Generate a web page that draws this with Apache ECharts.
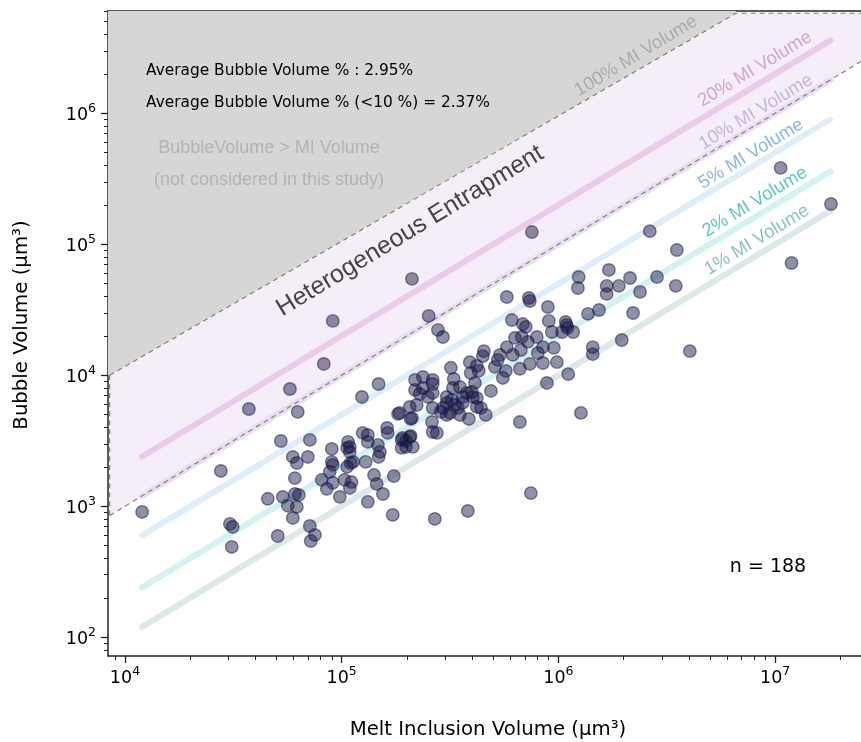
<!DOCTYPE html>
<html>
<head>
<meta charset="utf-8">
<script src="https://cdn.jsdelivr.net/npm/echarts@6/dist/echarts.min.js"></script>
<style>
  html, body { margin: 0; padding: 0; background: #fff; }
  #chart { width: 861px; height: 742px; }
</style>
</head>
<body>
<div id="chart"></div>
<script>
// Axis extents in µm³
const xRange = [8.35e3, 2.49e7];
const yRange = [71.9, 6.04e6];
const xMajorTicks = [1e4, 1e5, 1e6, 1e7];
const yMajorTicks = [1e2, 1e3, 1e4, 1e5, 1e6];

// Melt inclusion volume (µm³) of each inclusion
const miVolume = [
  1.06e7, 1.81e7, 7.54e5, 2.64e6, 3.52e6, 1.19e7, 2.11e5, 9.10e4, 2.52e5, 2.78e5,
  2.93e5, 8.27e4, 5.77e4, 3.73e4, 6.27e4, 1.48e5, 1.24e5, 5.24e4, 7.13e4, 1.24e6,
  1.71e6, 1.23e6, 1.67e6, 1.67e6, 1.90e6, 2.14e6, 2.85e6, 2.38e6, 3.48e6, 5.78e5,
  7.30e5, 7.38e5, 8.94e5, 1.37e6, 1.54e6, 2.21e6, 6.10e5, 6.85e5, 7.07e5, 9.03e5,
  9.33e5, 1.04e6, 1.09e6, 1.10e6, 1.17e6, 7.95e5, 6.30e5, 6.78e5, 7.23e5, 5.78e5,
  6.71e5, 6.16e5, 5.37e5, 4.53e5, 4.48e5, 8.48e5, 9.53e5, 8.04e5, 7.38e5, 8.48e5,
  9.84e5, 6.64e5, 5.72e5, 5.09e5, 5.54e5, 3.90e5, 3.19e5, 3.94e5, 4.29e5, 1.11e6,
  8.85e5, 1.44e6, 1.44e6, 1.96e6, 4.04e6, 1.27e6, 6.64e5, 4.88e5, 4.12e5, 3.78e5,
  3.99e5, 3.62e5, 3.26e5, 3.22e5, 2.93e5, 2.63e5, 3.05e5, 3.51e5, 3.86e5, 4.39e5,
  4.62e5, 4.20e5, 2.63e5, 2.37e5, 2.18e5, 2.18e5, 2.37e5, 2.50e5, 2.63e5, 2.06e5,
  2.22e5, 2.11e5, 2.61e5, 2.63e5, 2.75e5, 1.91e5, 2.06e5, 2.13e5, 1.85e5, 3.16e5,
  1.98e5, 7.46e5, 3.82e5, 2.69e5, 1.72e5, 2.77e4, 1.20e4, 3.05e4, 3.14e4, 3.11e4,
  5.07e4, 7.13e4, 7.52e4, 7.20e4, 4.56e4, 5.35e4, 5.64e4, 6.21e4, 5.95e4, 6.08e4,
  6.34e4, 6.08e4, 5.95e4, 6.21e4, 6.98e4, 9.00e4, 1.07e5, 1.06e5, 1.09e5, 1.25e5,
  1.32e5, 1.32e5, 1.47e5, 1.50e5, 1.48e5, 1.62e5, 1.63e5, 1.82e5, 2.08e5, 2.08e5,
  1.89e5, 1.89e5, 9.00e4, 9.10e4, 8.81e4, 8.09e4, 8.54e4, 9.10e4, 9.80e4, 1.03e5,
  1.06e5, 1.10e5, 1.13e5, 1.11e5, 1.09e5, 1.29e5, 1.41e5, 1.45e5, 1.55e5, 1.32e5,
  1.74e5, 3.33e5, 3.62e5, 3.05e5, 4.20e5, 3.29e5, 3.51e5, 3.05e5, 4.03e5, 1.08e6,
  2.63e5, 1.98e5, 4.20e5, 2.87e5, 1.09e5, 5.25e5, 2.29e5, 3.44e5
];

// Bubble volume (µm³) of each inclusion, same order
const bubbleVolume = [
  3.83e5, 2.03e5, 1.24e5, 1.26e5, 9.05e4, 7.20e4, 5.44e4, 2.60e4, 2.84e4, 2.22e4,
  1.96e4, 1.22e4, 7.86e3, 5.53e3, 5.25e3, 8.58e3, 6.83e3, 3.15e3, 3.21e3, 5.63e4,
  6.37e4, 4.64e4, 4.81e4, 4.18e4, 4.81e4, 5.53e4, 5.63e4, 4.33e4, 4.81e4, 3.96e4,
  3.89e4, 3.69e4, 3.32e4, 2.94e4, 3.15e4, 2.99e4, 2.64e4, 2.46e4, 2.34e4, 2.60e4,
  2.14e4, 2.14e4, 2.42e4, 2.30e4, 2.14e4, 1.96e4, 1.93e4, 1.96e4, 1.80e4, 1.64e4,
  1.56e4, 1.43e4, 1.43e4, 1.53e4, 1.40e4, 1.64e4, 1.62e4, 1.48e4, 1.22e4, 1.24e4,
  1.26e4, 1.12e4, 1.08e4, 1.16e4, 9.54e3, 1.26e4, 1.14e4, 1.04e4, 1.08e4, 1.02e4,
  8.74e3, 1.64e4, 1.45e4, 1.86e4, 1.53e4, 5.16e3, 4.40e3, 7.59e3, 8.74e3, 7.33e3,
  7.46e3, 6.83e3, 8.00e3, 6.48e3, 5.63e3, 5.63e3, 4.98e3, 4.98e3, 4.64e3, 5.63e3,
  4.98e3, 6.71e3, 9.21e3, 9.71e3, 9.21e3, 7.73e3, 8.00e3, 6.83e3, 7.33e3, 5.73e3,
  5.93e3, 4.72e3, 4.40e3, 3.69e3, 3.63e3, 3.32e3, 3.38e3, 2.84e3, 5.16e3, 5.16e3,
  2.84e3, 1.26e3, 921, 800, 859, 1.86e3, 905, 733, 695, 489,
  593, 707, 604, 543, 1.14e3, 1.18e3, 1.01e3, 988, 814, 1.24e3,
  1.22e3, 1.64e3, 2.38e3, 2.14e3, 2.38e3, 2.74e3, 3.10e3, 2.79e3, 2.84e3, 3.63e3,
  3.50e3, 3.10e3, 2.94e3, 2.60e3, 2.38e3, 3.96e3, 3.63e3, 5.07e3, 4.64e3, 3.44e3,
  3.21e3, 2.79e3, 2.18e3, 2.07e3, 1.83e3, 1.59e3, 1.36e3, 1.51e3, 1.18e3, 1.59e3,
  2.00e3, 2.14e3, 2.18e3, 1.53e3, 1.38e3, 2.18e3, 1.73e3, 1.48e3, 1.24e3, 1.08e3,
  1.70e3, 5.93e3, 6.15e3, 6.15e3, 5.73e3, 9.37e3, 8.14e3, 6.83e3, 6.83e3, 2.55e4,
  8.58e3, 3.15e3, 1.18e4, 5.25e3, 2.60e3, 1.31e4, 7.20e3, 5.63e3
];

// Reference lines: bubble volume as a percentage of MI volume
const ratioPercents = [20, 10, 5, 2, 1];
const ratioColors = ['#ebcbe9', '#ebdcf6', '#dfedfb', '#d2f3f2', '#dbe9e8'];
const ratioLineX = [1.2e4, 1.8e7];

// Shaded zones: heterogeneous-entrapment band (between the 10 % line and its upper edge)
// and the excluded zone above it
const bandLeftX = 8.5e3;
const bandUpperStart = 1e4;
const bandUpperCorner = [6.6e6, 5.8e6];
const bandLowerRatio = 0.1;

const lg = Math.log10;
function minorTicks(range) {
  const out = [];
  for (let e = Math.floor(lg(range[0])); e <= Math.ceil(lg(range[1])); e++) {
    for (let k = 2; k <= 9; k++) {
      const v = k * Math.pow(10, e);
      if (v >= range[0] && v <= range[1]) out.push(lg(v));
    }
  }
  return out;
}

const powLabel = v => '{b|10}{s|' + Math.round(v) + '}';
const tickRich = {
  b: { fontFamily: 'DejaVu Sans', fontSize: 17.5, color: '#000', verticalAlign: 'bottom' },
  s: { fontFamily: 'DejaVu Sans', fontSize: 12.5, color: '#000', verticalAlign: 'bottom', padding: [0, 0, 9, 0] }
};
const spine = { show: true, onZero: false, lineStyle: { color: '#222', width: 1.5 } };

function tickAxis(dim, range, majors, position) {
  const isX = dim === 'x';
  return [
    {
      type: 'value', gridIndex: 0, position: position,
      min: lg(range[0]), max: lg(range[1]),
      axisLine: spine,
      axisTick: { show: true, customValues: majors.map(lg), length: 7, lineStyle: { color: '#222', width: 1.3 } },
      axisLabel: { show: true, customValues: majors.map(lg), margin: isX ? 9 : 12, formatter: powLabel, rich: tickRich },
      splitLine: { show: false }
    },
    {
      type: 'value', gridIndex: 0, position: position,
      min: lg(range[0]), max: lg(range[1]),
      axisLine: { show: false },
      axisTick: { show: true, customValues: minorTicks(range), length: 4, lineStyle: { color: '#222', width: 1 } },
      axisLabel: { show: false },
      splitLine: { show: false }
    }
  ];
}

const ratioSeries = ratioPercents.map((p, i) => ({
  type: 'line', xAxisIndex: 0, yAxisIndex: 0, z: 2, silent: true,
  symbol: 'none',
  data: ratioLineX.map(x => [x, x * p / 100]),
  lineStyle: { color: ratioColors[i], width: 6, cap: 'round' }
}));

const zonesSeries = {
  type: 'custom', xAxisIndex: 0, yAxisIndex: 0, z: 1, silent: true, clip: true,
  data: [0],
  renderItem: (params, api) => {
    const c = p => api.coord(p);
    const grayPts = [
      [xRange[0], yRange[1]], [xRange[0], bandUpperStart], [bandLeftX, bandUpperStart],
      bandUpperCorner, [bandUpperCorner[0], yRange[1]]
    ].map(c);
    const bandPts = [
      [bandLeftX, bandUpperStart], bandUpperCorner, [xRange[1], bandUpperCorner[1]],
      [xRange[1], xRange[1] * bandLowerRatio], [bandLeftX, bandLeftX * bandLowerRatio]
    ].map(c);
    return {
      type: 'group',
      children: [
        { type: 'polygon', shape: { points: grayPts }, style: { fill: '#d6d6d6' } },
        { type: 'polygon', shape: { points: bandPts }, style: { fill: '#f5eef8' } }
      ]
    };
  }
};

const edgeSeries = {
  type: 'custom', xAxisIndex: 0, yAxisIndex: 0, z: 3, silent: true, clip: true,
  data: [0],
  renderItem: (params, api) => {
    const c = p => api.coord(p);
    const dash = { stroke: '#7a7a7a', lineWidth: 1.1, lineDash: [5, 4], fill: null };
    const top = [[bandLeftX, bandUpperStart], bandUpperCorner, [xRange[1], bandUpperCorner[1]]].map(c);
    const left = [[bandLeftX, bandUpperStart], [bandLeftX, bandLeftX * bandLowerRatio]].map(c);
    const bottom = [[bandLeftX, bandLeftX * bandLowerRatio], [xRange[1], xRange[1] * bandLowerRatio]].map(c);
    return {
      type: 'group',
      children: [
        { type: 'polyline', shape: { points: top }, style: dash },
        { type: 'polyline', shape: { points: left }, style: dash },
        { type: 'polyline', shape: { points: bottom }, style: dash }
      ]
    };
  }
};

const scatterSeries = {
  type: 'scatter', xAxisIndex: 0, yAxisIndex: 0, z: 4,
  symbolSize: 12.5,
  data: miVolume.map((x, i) => [x, bubbleVolume[i]]),
  itemStyle: { color: 'rgba(22,22,72,0.48)', borderColor: 'rgba(22,22,72,0.5)', borderWidth: 1.4, opacity: 1 }
};

const ang = 31.2 * Math.PI / 180;
const rotText = (text, x, y, size, color, family) => ({
  type: 'text', x: x, y: y, rotation: ang, z: 10,
  style: {
    text: text, fontSize: size, fontFamily: family || 'Liberation Sans', fill: color,
    align: 'center', verticalAlign: 'middle', textAlign: 'center', textVerticalAlign: 'middle'
  }
});
const plainText = (text, x, y, size, color, family, align) => ({
  type: 'text', x: x, y: y, z: 10,
  style: {
    text: text, fontSize: size, fontFamily: family, fill: color,
    align: align, verticalAlign: 'middle', textAlign: align, textVerticalAlign: 'middle'
  }
});

const chart = echarts.init(document.getElementById('chart'), null, { renderer: 'canvas' });
chart.setOption({
  animation: false,
  backgroundColor: '#fff',
  grid: { left: 108, right: 0, top: 11, bottom: 86 },
  xAxis: [
    { type: 'log', gridIndex: 0, min: xRange[0], max: xRange[1], show: false },
    ...tickAxis('x', xRange, xMajorTicks, 'bottom'),
    { type: 'value', gridIndex: 0, position: 'top', min: 0, max: 1, axisLine: spine,
      axisTick: { show: false }, axisLabel: { show: false }, splitLine: { show: false } }
  ],
  yAxis: [
    { type: 'log', gridIndex: 0, min: yRange[0], max: yRange[1], show: false },
    ...tickAxis('y', yRange, yMajorTicks, 'left')
  ],
  series: [zonesSeries, ...ratioSeries, edgeSeries, scatterSeries],
  graphic: [
    plainText('Average Bubble Volume % : 2.95%', 146, 71, 15.4, '#000', 'DejaVu Sans', 'left'),
    plainText('Average Bubble Volume % (<10 %) = 2.37%', 146, 103, 15.4, '#000', 'DejaVu Sans', 'left'),
    plainText('BubbleVolume > MI Volume', 269, 148, 18, '#b3b3b3', 'Liberation Sans', 'center'),
    plainText('(not considered in this study)', 269, 180, 18, '#b3b3b3', 'Liberation Sans', 'center'),
    plainText('n = 188', 768, 567, 19, '#000', 'DejaVu Sans', 'center'),
    rotText('Heterogeneous Entrapment', 410, 231, 25, '#444444'),
    rotText('100% MI Volume', 636, 56, 18.5, '#ababab'),
    rotText('20% MI Volume', 755, 69, 18.5, '#d5a2d1'),
    rotText('10% MI Volume', 756, 112, 18.5, '#c5b5de'),
    rotText('5% MI Volume', 751, 154, 18.5, '#8ab8e3'),
    rotText('2% MI Volume', 755, 202, 18.5, '#5ec7c5'),
    rotText('1% MI Volume', 757, 240, 18.5, '#8ac2be'),
    plainText('Melt Inclusion Volume (μm³)', 488, 730, 19.7, '#000', 'DejaVu Sans', 'center'),
    {
      type: 'text', x: 22, y: 325, rotation: Math.PI / 2, z: 10,
      style: {
        text: 'Bubble Volume (μm³)', fontSize: 19.7, fontFamily: 'DejaVu Sans', fill: '#000',
        align: 'center', verticalAlign: 'middle', textAlign: 'center', textVerticalAlign: 'middle'
      }
    }
  ]
});
</script>
</body>
</html>
